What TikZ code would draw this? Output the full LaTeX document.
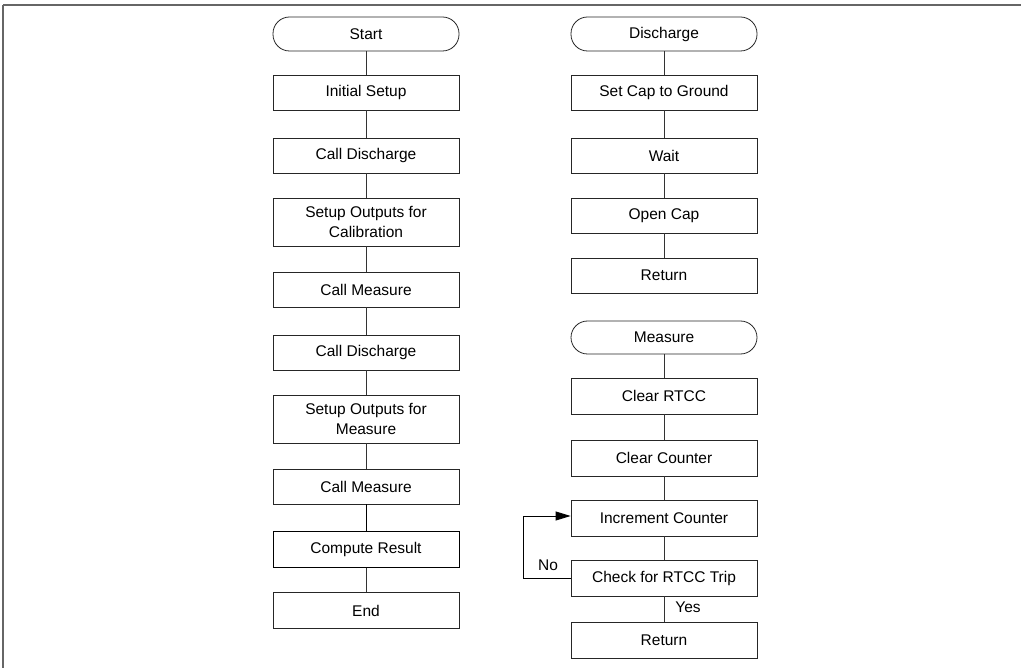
\documentclass[tikz,border=0pt]{standalone}
\usepackage{fontspec}
\setmainfont{Liberation Sans}
\usetikzlibrary{arrows.meta}
\begin{document}
\begin{tikzpicture}[x=1pt,y=-1pt,
  box/.style={draw=black!85, line width=0.8pt, rectangle, minimum width=186pt, inner sep=0pt, align=center, font=\fontsize{15.5}{20}\selectfont},
  term/.style={box, rounded corners=16.5pt},
  link/.style={draw=black!80, line width=0.8pt},
  lbl/.style={font=\fontsize{15.5}{18}\selectfont, inner sep=0pt}]
\useasboundingbox (0,0) rectangle (1021,668);
\draw[black!60, line width=1.3pt] (3,5) -- (1030,5);
\draw[black!60, line width=1.3pt] (3,5) -- (3,680);
% left column
\node[term, minimum height=34pt] (start) at (366,34) {Start};
\node[box, minimum height=35pt] (l1) at (366,92.5) {Initial Setup};
\node[box, minimum height=35pt] (l2) at (366,155.5) {Call Discharge};
\node[box, minimum height=48pt] (l3) at (366,222) {Setup Outputs for\\Calibration};
\node[box, minimum height=35pt] (l4) at (366,289.5) {Call Measure};
\node[box, minimum height=35pt] (l5) at (366,352.5) {Call Discharge};
\node[box, minimum height=48pt] (l6) at (366,419) {Setup Outputs for\\Measure};
\node[box, minimum height=35pt] (l7) at (366,486.5) {Call Measure};
\node[box, minimum height=36pt, line width=1pt, draw=black] (l8) at (366,549) {Compute Result};
\node[box, minimum height=36pt] (l9) at (366,610.5) {End};
\draw[link] (start) -- (l1);
\draw[link] (l1) -- (l2);
\draw[link] (l2) -- (l3);
\draw[link] (l3) -- (l4);
\draw[link] (l4) -- (l5);
\draw[link] (l5) -- (l6);
\draw[link] (l6) -- (l7);
\draw[link, line width=1pt, draw=black] (l7) -- (l8);
\draw[link] (l8) -- (l9);
% right column: discharge
\node[term, minimum height=34pt] (dis) at (664,34) {Discharge};
\node[box, minimum height=35pt] (d1) at (664,92.5) {Set Cap to Ground};
\node[box, minimum height=35pt] (d2) at (664,155.5) {Wait};
\node[box, minimum height=35pt] (d3) at (664,215.5) {Open Cap};
\node[box, minimum height=35pt] (d4) at (664,275.5) {Return};
\draw[link] (dis) -- (d1);
\draw[link] (d1) -- (d2);
\draw[link] (d2) -- (d3);
\draw[link] (d3) -- (d4);
% right column: measure
\node[term, minimum height=33pt] (mea) at (664,337.5) {Measure};
\node[box, minimum height=36pt] (m1) at (664,396) {Clear RTCC};
\node[box, minimum height=36pt] (m2) at (664,458) {Clear Counter};
\node[box, minimum height=36pt] (m3) at (664,518) {Increment Counter};
\node[box, minimum height=36pt] (m4) at (664,578) {Check for RTCC Trip};
\node[box, minimum height=36pt] (m5) at (664,640) {Return};
\draw[link] (mea) -- (m1);
\draw[link] (m1) -- (m2);
\draw[link] (m2) -- (m3);
\draw[link] (m3) -- (m4);
\draw[link] (m4) -- (m5);
\coordinate (lb) at (523,578);
\coordinate (lt) at (523,516);
\draw[link, draw=black, -{Triangle[length=15pt,width=9pt,fill=black]}] (m4.west) -- (lb) -- (lt) -- (m3.west |- lt);
\node[lbl] (no) at (548,565) {No};
\node[lbl] (yes) at (688,607) {Yes};
\end{tikzpicture}
\end{document}
